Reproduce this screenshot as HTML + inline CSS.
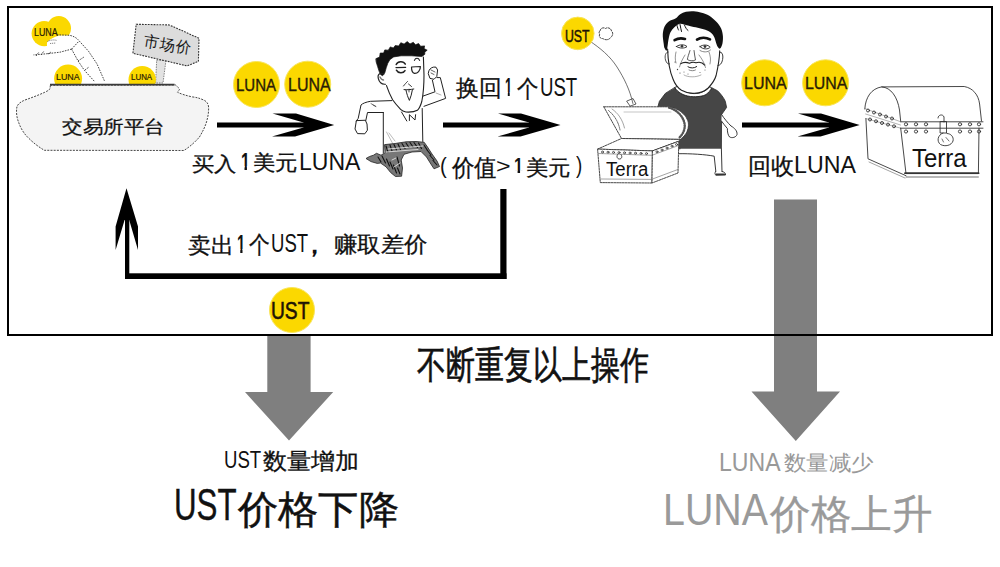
<!DOCTYPE html>
<html><head><meta charset="utf-8">
<style>
html,body{margin:0;padding:0;background:#fff;}
body{width:1000px;height:567px;position:relative;overflow:hidden;font-family:"Liberation Sans",sans-serif;color:#111;}
svg.main{position:absolute;left:0;top:0;}
.t{position:absolute;white-space:nowrap;line-height:1;transform-origin:0 0;}
</style></head>
<body>
<svg class="main" width="1000" height="567" viewBox="0 0 1000 567">

  <!-- ===== bowl / exchange ===== -->
  <g id="bowl">
    <!-- back coins -->
    <circle cx="58.8" cy="28.3" r="12.2" fill="#fbd800"/>
    <circle cx="44.2" cy="33.6" r="12.6" fill="#fbd800"/>
    <!-- hand -->
    <path d="M47 42.5 C50 39 54 37 59 35.6 L69.5 35.2 C73 36 76 37.5 78 39.5 L88.5 51.2 L97 63.9 L104.5 81 L95 82 L84.3 70.2 L77.9 60.7 L71.6 49.1 C67 50.5 63 51.5 60 52.2 L50 53 C47.5 50 46.5 46 47 42.5 Z" fill="#fff"/>
    <path d="M47.5 41.5 C50 40 54 39.5 57 40.5 M50 43.5 L56 43" fill="none" stroke="#666" stroke-width="0.8" stroke-dasharray="1.2 0.8"/>
    <g fill="none" stroke="#333" stroke-width="0.9" stroke-dasharray="1.6 1.1">
      <path d="M56.8 34.8 L69.5 35.3 C73 36 76 37.5 77.9 39.5 L88.5 51.2 L97 63.9 L104.4 80.8"/>
      <path d="M71.6 49.1 L77.9 60.7 L84.3 70.2 L94.9 81.9"/>
      <path d="M71.6 49.1 L79 41.1"/>
      <path d="M71.6 49.1 L60 52.2 L46.2 53.8 L33.5 54.9"/>
      <path d="M36 56 L39 52 M41 55 L44 51 M48 54 L51 52"/>
      <path d="M78 61 L84 57 M85 70 L89 67"/>
    </g>
    <!-- sign post -->
    <path d="M156.7 60 L166 60 L163 83 L155.6 83 Z" fill="#e2e2e2" stroke="#666" stroke-width="0.8" stroke-dasharray="1.5 1"/>
    <!-- sign board -->
    <path d="M136.2 24.3 L168.6 24.9 L173.9 26.9 L199 38.3 L198.4 61.3 L187.1 65.9 L132.9 53.3 Z" fill="#dcdcdc" stroke="#333" stroke-width="1.1" stroke-dasharray="1.8 1.1"/>
    <!-- front coins clipped by rim -->
    <clipPath id="rimclip"><rect x="0" y="0" width="300" height="84"/></clipPath>
    <g clip-path="url(#rimclip)" fill="#fbd800">
      <circle cx="68.1" cy="78.6" r="14"/>
      <circle cx="142.2" cy="79.6" r="13.7"/>
    </g>
    <!-- bowl body -->
    <path d="M50.4 85.3 C50.2 88 49.8 89.5 48.5 90.3 C45 92.5 35 96.5 27.2 99.2 C22 101 18.5 103 17 106.5 C16 111 16.5 117 18.5 122 C20.5 128 24 134 29 138.5 C34 143.5 39.5 147.5 44.4 150.3 L183.9 150.5 C191 146 196 141 199.4 137.1 C203 131 205 127 206.5 122 C208 117 208.8 112 208.6 107 C208.3 103 206 101 203.6 100 C199 98 197 97.5 192.3 96.9 C186 95.5 181 94 177.5 92.2 C179 90.5 179.6 89.3 179.6 89 C178 87 176.5 86 175.5 85 Z" fill="#f4f4f4" stroke="#333" stroke-width="0.9" stroke-dasharray="2 1.2"/>
    <line x1="50" y1="84.6" x2="174.6" y2="84.6" stroke="#3a3a3a" stroke-width="1.6"/>
  </g>

  <!-- ===== running man ===== -->
  <g id="runner" fill="none" stroke="#222" stroke-width="1" stroke-linecap="round" stroke-linejoin="round">
    <!-- hair -->
    <path d="M376.1 58.6 L379.6 57.1 L380.2 53.0 L383.6 53.1 L384.8 49.9 L388.3 50.2 L390.3 46.9 L393.4 48.0 L395.2 45.5 L398.7 46.0 L400.8 42.7 L404.1 44.1 L407.2 41.6 L410.0 43.9 L413.3 42.3 L415.5 44.8 L418.6 43.5 L420.6 46.3 L424.6 45.9 L424.1 48.6 L427.2 50.2 L424.8 52.0 L424.8 54.3 L421.9 56.5 L411.5 55.8 L401.1 55.8 L393.7 56.9 L390.0 59.5 L387.8 63.2 L386.3 67.6 L384.8 72.8 L382.6 75.8 L380.6 74.6 L379.2 71.5 L377.6 66.5 L376.2 62.0 Z" fill="#111" stroke="#111" stroke-width="0.7"/>
    <!-- face -->
    <path d="M423.4 57 L424 75 C424 85 423.5 93 421.8 101.5 C420.5 106 418.8 109 417.4 110.3 C415 111.6 411 112.3 405.9 112 C403.5 111.6 401.8 110.6 400.6 109.4 C397 105.5 394.5 102.5 392.6 99.7 C390 95 388 90 386.5 85.6" stroke-width="1.1"/>
    <!-- ear -->
    <path d="M384 74 C380 72 377.2 74.5 378.3 78.5 C379.2 82 381.8 84.6 385.5 84.2" stroke-width="1.1"/>
    <path d="M380 77 C381 79 382.5 80 383.5 80" stroke="#777" stroke-width="1.4"/>
    <!-- eyes -->
    <path d="M396.2 64.5 C397.5 61 403.5 60.5 405.3 64.2" stroke-width="1.5"/>
    <path d="M396 67.6 L405.6 67.4" stroke-width="1.3"/>
    <path d="M396.4 70.2 C398 73.4 403.2 73.8 405 70.6" stroke-width="1.5"/>
    <path d="M414.4 60.4 C415.5 57.6 418.5 57.6 419.6 60.4" stroke-width="1.1"/>
    <path d="M411.5 67 L420.4 66.5 C420.5 70.5 417.5 73.6 414.5 73.4 C412.5 73 411.5 70.5 411.5 67 Z" stroke-width="1.2"/>
    
    <!-- nose / mouth -->
    <path d="M403.5 86 C405 84 406.5 82.5 407.5 81.5 M408.5 84 L411.5 86.5" stroke-width="0.9"/>
    <path d="M404 89.6 C407 90 410.5 89.6 413.8 89" stroke-width="1"/>
    <path d="M406 90.2 C406.8 94 408 97.6 409.4 100.4 C410.8 97 411.8 93.5 412.4 89.8" stroke-width="1"/>
    <path d="M409 89.2 L409 92" stroke-width="0.8"/>
    <!-- raised arm -->
    <path d="M429 70.5 C430 68 433 66.5 436 67.2 L437.6 70 L436.8 76.5 L434 79.3 L430 78.4 L428.4 74 Z" stroke-width="1"/>
    <path d="M431 70 L435 72 M431 73 L434 74.5" stroke-width="0.7"/>
    <path d="M437 77.6 L440.3 77.6 L445.6 98.4 L424 106.3"/>
    <path d="M432.4 80.3 L435 91.8 L422.7 96.2"/>
    <path d="M436 93 L441 95" stroke-width="0.6" stroke="#777"/>
    <!-- left arm -->
    <path d="M391.8 100.6 L370.6 101.3 C366 102 362.5 103.5 361 105 L358.2 118.4 L356.3 121"/>
    <path d="M383.3 112.5 L367.5 112.5 L365.8 120.5"/>
    <path d="M356.3 121 L355 129 L357.5 133.6 L364.8 133.8 L367.4 130.2 L367 124 L365.5 120.6 Z"/>
    <path d="M371 103.6 L376 106.5 M373 105 L375.6 106.4" stroke-width="0.6"/>
    <!-- collar -->
    <path d="M401.5 112 L406.8 121 M409.4 120.5 L409.4 114.7 L415 120 L415.6 114.7" stroke-width="1"/>
    <!-- torso -->
    <path d="M383.3 112.5 L383.3 153"/>
    <path d="M422.2 108.5 L422.8 141.5"/>
    <path d="M386.5 132 L393.5 145 M389 133 L395 141" stroke-width="0.5" stroke="#777"/>
    <!-- pants -->
    <path d="M384.8 144.6 L395 143.5 L406 141.8 L416 141.5 L424.2 142.3 L427.5 147 L432 154 L437 161 L439.5 166.5 L434 168.8 L431.5 165 L426.5 157 L421 151.5 L412 152 L404 154.3 L401.2 160 L402.5 168 L401.6 176.2 L395.5 176.5 L390.6 172.5 L386 166.8 L380.5 163 L377.2 163.4 L371 161.6 L366 158.5 L369.5 156.5 L373.5 155.2 L376.5 153.3 L381 155.2 L384.8 153 Z" fill="#777" stroke="#222" stroke-width="0.8"/>
    <path d="M386 146 L388 152 M390 145 L392 151 M394 144.5 L396.5 150 M398 144 L400.5 149.5 M402 143.5 L405 148.5 M406 143 L409 147.5 M410 142.5 L413 147 M414 142.5 L417.5 147.5 M418.5 143 L421.5 148.5 M424 145 L427.5 150.5 M427 150 L431 155 M430 155.5 L434 160 M433 160.5 L437 165 M378 157 L381 162 M382 156 L385.5 163 M386.5 159 L389.5 166 M390 162 L393 169 M393.5 165 L396.5 173 M397 157 L399.5 166 M397.5 168 L400 174" stroke="#111" stroke-width="1.1"/>
    <path d="M388 149 L423 146 M386 152 L418 149.5 M392 160 L396 158 M394 167 L400 163" stroke="#f0f0f0" stroke-width="0.8"/>
  </g>

  <!-- ===== big head man ===== -->
  <g id="boss" stroke-linecap="round" stroke-linejoin="round">
    <!-- shirt -->
    <path d="M674.9 87.8 C678 92.5 683 95.5 690.4 96.5 C698 97.2 703.5 96 706 94.5 C709 92.5 710.6 90 711.7 87.8 L717.5 90.7 C721 94 723.8 98 725.3 101.3 L726.6 107.4 L721.6 114.6 L721.4 148.8 L680.7 148.8 L660 148.8 L657 110 L659.4 101.3 L665.2 93.6 Z" fill="#464646" stroke="#2a2a2a" stroke-width="0.8"/>
    <!-- right arm -->
    <path d="M721.6 114.6 C724.5 119 728 123 731 126 C734.5 128 737.5 131 737 134.5 C736 137.5 732 138.3 729.6 137 C727.8 135 727.3 131.5 727.4 128.6 C725.5 126 723 123.5 721.4 121" fill="#fff" stroke="#222" stroke-width="0.9"/>
    <!-- legs -->
    <path d="M680.7 148.8 L721.4 148.8 L722 171.5 L725.6 174.6 L715.4 175.3 L716 171.4 L714.5 156 C706 154.5 690 153.5 678.8 153.7 Z" fill="#fff" stroke="none"/>
    <path d="M678.8 153.7 C690 153.5 706 154.5 714.2 156.2 L715.8 171.2 M721.4 148.8 L722 171.5 M715.6 171.4 C714.6 173 714.8 174.6 716 175.2 L725.5 175 C725.8 173.5 724.6 172 722.2 171.5" fill="none" stroke="#222" stroke-width="0.9"/>
    <path d="M716 173.5 L724.5 173.5 L725.2 175 L715.5 175.2 Z" fill="#333"/>
    <!-- neck -->
    <path d="M679.5 86 C683 90.5 688 93.5 694 93.6 C700 93.6 705.5 91.5 709.6 86.8 L711.7 87.8 C710.4 90.5 708.6 92.7 706 94.5 C703.5 96 698 97.2 690.4 96.5 C683 95.5 678 92.5 674.9 87.8 Z" fill="#fff" stroke="#222" stroke-width="0.9"/>
    <!-- face -->
    <path d="M667.6 49 C668 62 670 72 673 79 C675 84.5 678 88 681.5 90.3 C685.5 92.6 690 93.6 694.5 93.3 C700 93 705 91 708.2 88 C712 84 714.8 80 716.1 75.5 C718 67 719.5 58 719.7 50.9" fill="#fff" stroke="#222" stroke-width="1.1"/>
    <path d="M719.4 52.5 C722 51 723.5 55 722.6 59.5 C721.8 63.5 720 65.5 718 65.5" fill="none" stroke="#222" stroke-width="0.9"/>
    <path d="M668.2 52 C665.5 52 664.5 56 665.5 60 C666.5 63 668 64.5 669.5 64" fill="none" stroke="#222" stroke-width="0.8"/>
    <!-- hair -->
    <path d="M663.7 43.8 C663.4 41.5 662.6 37.0 662.8 34.1 C663.0 31.2 663.6 28.5 664.7 26.3 C665.8 24.1 667.7 22.3 669.5 21.0 C671.3 19.7 673.6 19.7 675.4 18.6 C677.2 17.5 678.4 15.3 680.2 14.2 C682.0 13.1 683.7 12.3 686.0 11.8 C688.3 11.3 691.2 11.1 693.8 11.3 C696.4 11.5 699.0 12.1 701.6 12.8 C704.2 13.5 706.9 14.2 709.3 15.7 C711.7 17.1 714.1 19.4 716.1 21.5 C718.1 23.6 719.9 25.9 721.0 28.3 C722.1 30.7 722.7 33.4 722.9 36.0 C723.1 38.6 722.9 41.7 722.4 43.8 C721.9 45.9 720.9 48.3 720.0 48.6 C719.1 48.9 718.1 47.6 717.1 45.7 C716.1 43.8 715.3 39.2 714.2 37.0 C713.1 34.8 712.1 33.5 710.3 32.2 C708.5 30.9 705.9 30.0 703.5 29.2 C701.1 28.4 698.3 27.9 695.7 27.3 C693.1 26.7 689.9 25.9 688.0 25.4 C686.1 24.9 685.6 24.6 684.1 24.4 C682.6 24.1 680.8 23.4 679.2 23.9 C677.6 24.4 675.9 25.9 674.4 27.3 C672.9 28.7 671.5 30.3 670.5 32.2 C669.5 34.2 669.1 36.8 668.6 39.0 C668.1 41.2 667.9 43.8 667.6 45.7 C667.3 47.6 667.1 50.2 666.6 50.6 C666.1 51.0 665.0 49.1 664.5 48.0 C664.0 46.9 664.0 46.1 663.7 43.8 Z" fill="#111"/>
    <path d="M680 24.5 C680.5 27 681 29.5 681.5 31.5 M684.5 25 C685.5 27.5 686.5 29.5 688 30.5 M677 25.5 C677.5 27.5 678 29 678.5 30" stroke="#111" stroke-width="1" fill="none"/>
    <!-- brows / eyes -->
    <path d="M674.6 40.2 C677.5 38.4 681.5 38 685 39" stroke="#111" stroke-width="2.6" fill="none"/>
    <path d="M697 39.6 C700.5 37.4 706 37.2 710 39.4" stroke="#111" stroke-width="2.6" fill="none"/>
    <path d="M676.5 46.5 C679.5 44.2 684.5 44.2 687 46.6 C684.5 48.6 679.5 48.6 676.5 46.5 Z" fill="#fff" stroke="#222" stroke-width="0.9"/><circle cx="682" cy="46.3" r="1.3" fill="#333"/>
    <path d="M700 46.6 C703 44.3 708 44.5 710.2 47.2 C708 49.6 703 49.6 700 46.6 Z" fill="#fff" stroke="#222" stroke-width="0.9"/><circle cx="705" cy="46.6" r="1.4" fill="#333"/>
    <path d="M700 50.5 C703.5 52.5 707.5 52.5 710.5 50" stroke="#555" stroke-width="0.7" fill="none"/>
    <!-- nose / moustache / mouth -->
    <path d="M690 50.5 C689 54 687.6 57 687.4 59.5 C689.5 61 692.5 61.2 695.5 60 C695 56.5 694.2 53.5 694 50.5" stroke="#333" stroke-width="0.8" fill="none"/>
    <path d="M680.5 63.8 C683.5 61.8 686.5 62 689.5 63.2 C691.5 62.2 694 62 696 62.8 C699 61.8 702.5 62.5 704.7 65" stroke="#222" stroke-width="1.2" fill="none"/>
    <path d="M688 66.8 C690.5 68.4 694 68.4 696.7 66.6" stroke="#222" stroke-width="1" fill="none"/>
    <path d="M689 70 C691 71 694 71 695.5 70" stroke="#555" stroke-width="0.7" fill="none"/>
    <path d="M685 55 C682.5 59 680.5 63 679.5 67 M699 55 C702 59 704.5 63 705.5 67.5 M676 52 C675 56 675 60 676 63 M709 52 C710.5 56 711 60 710 64" stroke="#666" stroke-width="0.7" fill="none"/>
    <path d="M684 75 C688 77.5 696 77.5 701 75" stroke="#777" stroke-width="0.6" fill="none"/>
    <circle cx="684" cy="72" r="0.5" fill="#555"/><circle cx="700" cy="72.5" r="0.5" fill="#555"/><circle cx="705" cy="70" r="0.5" fill="#555"/><circle cx="688" cy="74" r="0.5" fill="#555"/>
    <circle cx="677.5" cy="69.5" r="0.7" fill="#444"/><circle cx="680" cy="73" r="0.6" fill="#444"/><circle cx="675" cy="62" r="0.6" fill="#444"/>
  </g>

  <!-- ===== open chest ===== -->
  <g id="chest1" stroke-linecap="round" stroke-linejoin="round">
    <!-- lid -->
    <path d="M603.8 106.8 L668.2 106.8 C678 108 686 114 688.2 122 C689.5 129.5 685.5 135.5 680.6 139.4 L621.5 138.5 Z" fill="#fff" stroke="#333" stroke-width="0.9" stroke-dasharray="1.8 1"/>
    <path d="M669 107.5 C677 110 683 116 684.5 123.5 C685.5 129 683 134 679.5 137.5" fill="none" stroke="#555" stroke-width="2.4" stroke-dasharray="0.9 1.6"/>
    <path d="M608.5 110.5 C614.5 115.5 618.5 122 620 130" fill="none" stroke="#444" stroke-width="0.8" stroke-dasharray="1.5 1"/>
    <path d="M612 109 C618 113 622.5 119.5 624.5 128" fill="none" stroke="#666" stroke-width="0.6"/>
    <path d="M624 112 L671 112" fill="none" stroke="#888" stroke-width="0.5"/>
    <!-- body -->
    <path d="M597.6 149.1 L621.5 138.5 L680.6 139.4 L678.8 141.2 L652.4 150.9 Z" fill="#fff" stroke="#333" stroke-width="0.9" stroke-dasharray="1.8 1"/>
    <path d="M597.6 149.1 L652.4 150.9 L652 183 L600.3 182.6 Z" fill="#fff" stroke="#333" stroke-width="0.9" stroke-dasharray="1.8 1"/>
    <path d="M652.4 150.9 L678.8 141.2 L678 173 L652 183 Z" fill="#fff" stroke="#333" stroke-width="0.9" stroke-dasharray="1.8 1"/>
    <path d="M598.5 153.5 L652 155.3 L678.5 145.5" fill="none" stroke="#666" stroke-width="0.6"/>
    <path d="M601 179 L651.5 179.4 L677.6 169.6" fill="none" stroke="#666" stroke-width="0.6"/>
    <g fill="none" stroke="#333" stroke-width="0.8">
      <circle cx="602.5" cy="152" r="1"/><circle cx="608" cy="152.2" r="1"/><circle cx="613.5" cy="152.4" r="1"/><circle cx="619" cy="152.6" r="1"/><circle cx="624.5" cy="152.8" r="1"/><circle cx="630" cy="153" r="1"/><circle cx="635.5" cy="153.2" r="1"/><circle cx="641" cy="153.4" r="1"/><circle cx="646.5" cy="153.6" r="1"/>
      <circle cx="657" cy="151.8" r="1"/><circle cx="662" cy="150" r="1"/><circle cx="667" cy="148" r="1"/><circle cx="672" cy="146.2" r="1"/><circle cx="676.5" cy="144.5" r="1"/>
    </g>
    <path d="M618 154 C616 156 617 159 619.5 159 C622 159 622.5 156 621 154.5" fill="none" stroke="#333" stroke-width="0.9"/>
    <!-- trajectory -->
    <path d="M589.7 41 C600 48 610 56 617 67 C624 78 630 90 632.9 103.5" fill="none" stroke="#333" stroke-width="0.7"/>
    <path d="M627 101 L633 98.5 L636 104 L630.5 106 Z" fill="none" stroke="#333" stroke-width="0.8"/>
    <path d="M600 31 C600.5 28 603.5 27 605.5 28.5 C607.5 27 611 28 611.5 31 C613.5 32.5 613 36 610.5 37.5 C609.5 40 605 40.5 603 38.5 C600 39 598.5 36 599.8 34 C598.5 33 599 31.5 600 31 Z" fill="none" stroke="#333" stroke-width="0.9" stroke-dasharray="2 1.3"/>
  </g>

  <!-- ===== closed chest ===== -->
  <g id="chest2" fill="none" stroke="#333" stroke-width="0.9" stroke-linecap="round" stroke-linejoin="round">
    <path d="M865 110 C865.5 98 871.5 88.5 881.7 86.9 L964.2 86.5 C973 88 978.5 95 979.6 104 L981.5 121.5 L983 121.8 L983 128.2 L979 128.2 L978.4 173.6 L906 173.6 L906 175.7 L868 158.8 L865.9 118.6 L864.8 108 Z" fill="#fff" stroke="none"/>
    <path d="M864.8 109 C865.5 97 871.5 88.5 881.7 86.9 C891 87.5 897.5 97 899.5 110 L900.7 121.5"/>
    <path d="M881.7 86.9 L964.2 86.5 C973 88 978.5 95 979.6 104 L981.5 121"/>
    <path d="M900.7 121.8 L983 121.8 M900.7 128.2 L983 128.2"/>
    <path d="M864.8 108.5 L900.7 121.8 M865.9 118.6 L900.7 128.2 M865.6 114 L900.5 125" stroke="#666" stroke-width="0.5"/>
    <path d="M900.7 128.2 L906 173.6 L978.4 173.6 L979 128.2"/>
    <path d="M865.9 118.6 L868 158.8 L906 175.7"/>
    <path d="M905 173.2 L978.6 173.2" stroke-width="1.8"/><path d="M906 177 L978.4 177" stroke-width="0.7"/>
    <path d="M869 162 L905 178" stroke="#666" stroke-width="0.6"/>
    <g stroke-width="0.9">
      <circle cx="906" cy="124.3" r="1.6"/><circle cx="916" cy="124.3" r="1.6"/><circle cx="926" cy="124.3" r="1.6"/><circle cx="960" cy="124.3" r="1.6"/><circle cx="970" cy="124.3" r="1.6"/><circle cx="979" cy="124.3" r="1.6"/>
      <circle cx="906" cy="131.5" r="1.6"/><circle cx="916" cy="131.5" r="1.6"/><circle cx="926" cy="131.5" r="1.6"/><circle cx="960" cy="131.5" r="1.6"/><circle cx="970" cy="131.5" r="1.6"/><circle cx="979" cy="131.5" r="1.6"/>
      <circle cx="868" cy="110.5" r="1.5"/><circle cx="874" cy="112.5" r="1.5"/><circle cx="880" cy="114.5" r="1.5"/><circle cx="886" cy="116.5" r="1.5"/><circle cx="892" cy="118.5" r="1.5"/>
      <circle cx="870" cy="119.5" r="1.5"/><circle cx="876" cy="121.3" r="1.5"/><circle cx="882" cy="123" r="1.5"/><circle cx="888" cy="124.6" r="1.5"/><circle cx="894" cy="126.3" r="1.5"/>
    </g>
    <!-- lock -->
    <path d="M938 118 C938 114.5 943 113.8 944 117 L944 122 M940.5 121.5 L946.5 121.5 L946.5 133 L940.5 133 Z"/>
    <path d="M943 133 C937.5 135 936.5 141.5 940.5 144.5 C945 147 951.5 145.5 953 141 C954 137 951 133.5 947 133.5"/>
    <path d="M942 139 L943.5 142 M946 137.5 L949 141" stroke-width="0.7"/>
  </g>
  <!-- grey right arrow (behind border) -->
  <path d="M774 199.5H817V391.5H840L795.8 441L751.5 391.5H774Z" fill="#7f7f7f"/>
  <!-- grey left arrow -->
  <path d="M267.3 335H310.6V392H333.2L289 440.5L245 392H267.3Z" fill="#7f7f7f"/>
  <!-- frame -->
  <rect x="8" y="7" width="984" height="328" fill="none" stroke="#000" stroke-width="2"/>

  <!-- black arrows -->
  <g fill="#000">
    <rect x="217" y="122.5" width="90" height="5"/>
    <path d="M272.5 113.5H296L334.2 125L295 136.5H272L303.5 127.5V122.5Z"/>
    <rect x="443" y="122.5" width="90" height="5"/>
    <path d="M498 113.5H521L560.5 125L520.5 136.5H497.5L529 127.5V122.5Z"/>
    <rect x="742" y="122.5" width="90" height="5"/>
    <path d="M798 113.5H821L859.7 125L820.5 136.5H797.5L829 127.5V122.5Z"/>
    <!-- loop -->
    <rect x="125" y="215" width="4.3" height="64"/>
    <rect x="125" y="273.3" width="381.5" height="5.7"/>
    <rect x="500.3" y="189" width="6.2" height="90"/>
    <path d="M126.5 188.3L138 226.5V250L129.2 220H124.6L115.6 250V226.5Z"/>
  </g>

  <!-- coins -->
  <g fill="#fbd800" stroke="#f9e55a" stroke-width="1">
    <circle cx="256.5" cy="84.5" r="23"/>
    <circle cx="307.7" cy="84.2" r="23"/>
    <circle cx="764.7" cy="82.8" r="23"/>
    <circle cx="825.6" cy="82.8" r="23"/>
    <circle cx="292" cy="310" r="22.5"/>
    <circle cx="577.8" cy="33.4" r="16.3"/>
  </g>
</svg>

<!--TEXT-->
<div class="t" style="left:236.16px;top:76.71px;font-size:16.36px;transform:scaleX(0.92);-webkit-text-stroke:0.35px #2a1c05;color:#2a1c05">LUNA</div>
<div class="t" style="left:287.79px;top:76.97px;font-size:17.45px;transform:scaleX(0.917);-webkit-text-stroke:0.35px #2a1c05;color:#2a1c05">LUNA</div>
<div class="t" style="left:744.39px;top:75.11px;font-size:16.36px;transform:scaleX(0.977);-webkit-text-stroke:0.35px #2a1c05;color:#2a1c05">LUNA</div>
<div class="t" style="left:805.1px;top:75.11px;font-size:16.36px;transform:scaleX(0.972);-webkit-text-stroke:0.35px #2a1c05;color:#2a1c05">LUNA</div>
<div class="t" style="left:271.06px;top:299.4px;font-size:24.65px;transform:scaleX(0.779);-webkit-text-stroke:0.6px #1e1405;color:#1e1405">UST</div>
<div class="t" style="left:564.5px;top:27.78px;font-size:17.2px;transform:scaleX(0.715);-webkit-text-stroke:0.5px #1e1405;color:#1e1405">UST</div>
<div class="t" style="left:34.38px;top:28.04px;font-size:10.4px;transform:scaleX(0.854);-webkit-text-stroke:0.2px #2a1c05;color:#2a1c05">LUNA</div>
<div class="t" style="left:56.48px;top:72.36px;font-size:9.92px;transform:scaleX(0.894);-webkit-text-stroke:0.2px #2a1c05;color:#2a1c05">LUNA</div>
<div class="t" style="left:131.42px;top:73.49px;font-size:8.56px;transform:scaleX(0.927);-webkit-text-stroke:0.2px #2a1c05;color:#2a1c05">LUNA</div>
<div class="t" style="left:605.63px;top:158.5px;font-size:20.0px;transform:scaleX(0.931);color:#111">Terra</div>
<div class="t" style="left:911.82px;top:145.8px;font-size:25.0px;transform:scaleX(0.959);color:#111">Terra</div>
<div class="t" style="left:61.59px;top:118.72px;font-size:17.9px;font-weight:500;transform:scaleX(1.144);-webkit-text-stroke:0.3px #111;color:#111">交易所平台</div>
<div class="t" style="left:191.8px;top:153.6px;font-size:20.2px;font-weight:500;transform:scaleX(1.114);-webkit-text-stroke:0.3px #111;color:#111">买入</div>
<div class="t" style="left:240.59px;top:149.75px;font-size:24.06px;font-weight:700;transform:scaleX(0.657);clip-path:polygon(0 0,100% 0,100% 68%,67.5% 68%,67.5% 100%,40% 100%,40% 68%,0 68%);color:#111">1</div>
<div class="t" style="left:252.57px;top:152.7px;font-size:20.84px;font-weight:500;transform:scaleX(1.066);-webkit-text-stroke:0.3px #111;color:#111">美元</div>
<div class="t" style="left:298.85px;top:149.52px;font-size:24.03px;transform:scaleX(0.958);color:#111">LUNA</div>
<div class="t" style="left:455.77px;top:77.45px;font-size:22.98px;font-weight:500;transform:scaleX(0.995);-webkit-text-stroke:0.3px #111;color:#111">换回</div>
<div class="t" style="left:504.92px;top:74.67px;font-size:25.8px;font-weight:700;transform:scaleX(0.488);clip-path:polygon(0 0,100% 0,100% 68%,67.5% 68%,67.5% 100%,40% 100%,40% 68%,0 68%);color:#111">1</div>
<div class="t" style="left:517.36px;top:77.85px;font-size:23.66px;font-weight:500;transform:scaleX(0.892);-webkit-text-stroke:0.3px #111;color:#111">个</div>
<div class="t" style="left:540.21px;top:75.04px;font-size:25.07px;transform:scaleX(0.743);color:#111">UST</div>
<div class="t" style="left:440.25px;top:154.44px;font-size:22.98px;transform:scaleX(0.879);color:#111">(</div>
<div class="t" style="left:451.6px;top:157.22px;font-size:23.66px;font-weight:500;transform:scaleX(0.933);-webkit-text-stroke:0.3px #111;color:#111">价值</div>
<div class="t" style="left:496.46px;top:156.95px;font-size:19.8px;transform:scaleX(1.263);color:#111">&gt;</div>
<div class="t" style="left:514.07px;top:155.14px;font-size:22.42px;font-weight:700;transform:scaleX(0.719);clip-path:polygon(0 0,100% 0,100% 68%,67.5% 68%,67.5% 100%,40% 100%,40% 68%,0 68%);color:#111">1</div>
<div class="t" style="left:526.26px;top:158.0px;font-size:21.43px;font-weight:500;transform:scaleX(1.066);-webkit-text-stroke:0.3px #111;color:#111">美元</div>
<div class="t" style="left:575.61px;top:153.44px;font-size:23.83px;transform:scaleX(0.791);color:#111">)</div>
<div class="t" style="left:747.83px;top:155.03px;font-size:22.9px;font-weight:500;transform:scaleX(1.006);-webkit-text-stroke:0.3px #111;color:#111">回收</div>
<div class="t" style="left:793.75px;top:152.78px;font-size:23.86px;transform:scaleX(0.972);color:#111">LUNA</div>
<div class="t" style="left:187.81px;top:234.83px;font-size:22.21px;font-weight:500;transform:scaleX(1.04);-webkit-text-stroke:0.3px #111;color:#111">卖出</div>
<div class="t" style="left:237.18px;top:231.84px;font-size:25.36px;font-weight:700;transform:scaleX(0.579);clip-path:polygon(0 0,100% 0,100% 68%,67.5% 68%,67.5% 100%,40% 100%,40% 68%,0 68%);color:#111">1</div>
<div class="t" style="left:248.87px;top:233.43px;font-size:24.19px;font-weight:500;transform:scaleX(0.864);-webkit-text-stroke:0.3px #111;color:#111">个</div>
<div class="t" style="left:271.32px;top:231.4px;font-size:25.35px;transform:scaleX(0.731);color:#111">UST</div>
<div class="t" style="left:333.73px;top:234.48px;font-size:21.96px;font-weight:500;transform:scaleX(1.066);-webkit-text-stroke:0.3px #111;color:#111">赚取差价</div>
<div class="t" style="left:417.42px;top:345.74px;font-size:38.25px;font-weight:500;transform:scaleX(0.762);-webkit-text-stroke:0.6px #111;color:#111">不断重复以上操作</div>
<div class="t" style="left:224.31px;top:447.72px;font-size:24.51px;transform:scaleX(0.76);color:#111">UST</div>
<div class="t" style="left:262.96px;top:450.52px;font-size:22.5px;font-weight:500;transform:scaleX(1.045);-webkit-text-stroke:0.3px #111;color:#111">数量增加</div>
<div class="t" style="left:174.15px;top:482.59px;font-size:44.34px;transform:scaleX(0.706);-webkit-text-stroke:0.4px #111;color:#111">UST</div>
<div class="t" style="left:238.3px;top:490.6px;font-size:38.77px;font-weight:500;transform:scaleX(1.032);-webkit-text-stroke:0.45px #111;color:#111">价格下降</div>
<div class="t" style="left:718.66px;top:449.04px;font-size:26.0px;transform:scaleX(0.887);color:#999">LUNA</div>
<div class="t" style="left:783.87px;top:453.16px;font-size:21.43px;font-weight:500;transform:scaleX(1.071);color:#999">数量减少</div>
<div class="t" style="left:662.65px;top:488.31px;font-size:44.29px;transform:scaleX(0.889);color:#9a9a9a">LUNA</div>
<div class="t" style="left:769.5px;top:494.51px;font-size:39.69px;font-weight:500;transform:scaleX(1.015);-webkit-text-stroke:0.3px #9a9a9a;color:#9a9a9a">价格上升</div>
<div class="t" style="left:302.3px;top:231.6px;font-size:25px;font-weight:700;color:#111">，</div>
<div class="t" style="left:143.5px;top:36.5px;font-size:15.5px;font-weight:500;color:#1a1a1a;transform:rotate(9deg);transform-origin:50% 50%">市场价</div>
<!--/TEXT-->
</body></html>
